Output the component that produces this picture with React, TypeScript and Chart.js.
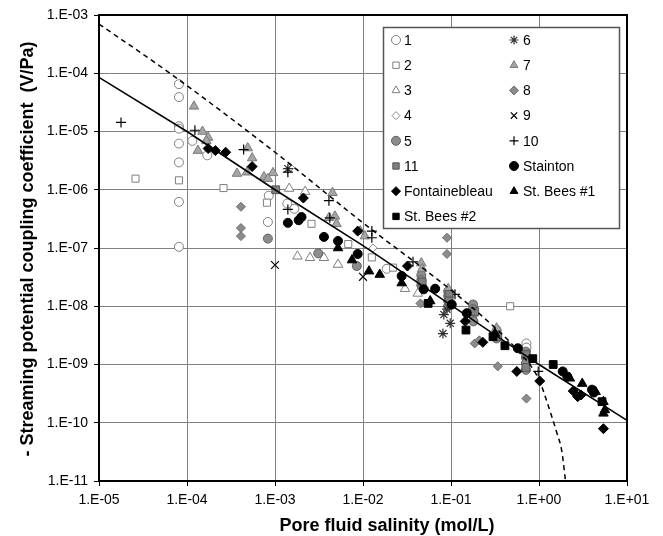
import React, { useEffect, useRef } from 'react';
import { Chart, registerables } from 'chart.js';
import { drawPoint } from 'chart.js/helpers';

Chart.register(...registerables);

// ---------- axis ticks & titles ----------
const X_TICKS = [1e-5, 1e-4, 1e-3, 1e-2, 1e-1, 1, 10];
const X_TICK_LABELS = ['1.E-05', '1.E-04', '1.E-03', '1.E-02', '1.E-01', '1.E+00', '1.E+01'];
const Y_TICKS = [1e-11, 1e-10, 1e-9, 1e-8, 1e-7, 1e-6, 1e-5, 1e-4, 1e-3];
const Y_TICK_LABELS = ['1.E-11', '1.E-10', '1.E-09', '1.E-08', '1.E-07', '1.E-06', '1.E-05', '1.E-04', '1.E-03'];
const X_TITLE = 'Pore fluid salinity (mol/L)';
const Y_TITLE = '- Streaming potential coupling coefficient  (V/Pa)';

// ---------- series labels ----------
const LABELS = ['1', '2', '3', '4', '5', '6', '7', '8', '9', '10', '11', 'Stainton', 'Fontainebleau', 'St. Bees #1', 'St. Bees #2'];

// ---------- data (salinity mol/L, coupling coefficient V/Pa) ----------
const S1_X = [8.1e-5, 8.1e-5, 8.1e-5, 8.1e-5, 8.1e-5, 8.1e-5, 8.1e-5, 8.1e-5, 1.15e-4, 1.7e-4, 8.3e-4, 8.5e-4, 1.38e-3, 1.66e-3, 1.86e-2, 9.8e-2, 0.33, 0.72, 0.72];
const S1_Y = [6.5e-5, 3.9e-5, 1.23e-5, 1.12e-5, 6.2e-6, 2.95e-6, 6.2e-7, 1.05e-7, 6.9e-6, 3.9e-6, 2.8e-7, 7.9e-7, 5.8e-7, 4.7e-7, 4.4e-8, 1.66e-8, 3.9e-9, 2.3e-9, 1.95e-9];

const S2_X = [2.6e-5, 8.1e-5, 2.6e-4, 8.1e-4, 2.6e-3, 6.8e-3, 1.26e-2, 2.2e-2, 0.47];
const S2_Y = [1.55e-6, 1.45e-6, 1.07e-6, 6.0e-7, 2.6e-7, 1.17e-7, 6.9e-8, 4.6e-8, 1.0e-8];

const S3_X = [1.45e-3, 2.2e-3, 1.8e-3, 2.5e-3, 3.6e-3, 5.2e-3, 3.0e-2, 4.2e-2];
const S3_Y = [1.05e-6, 9.3e-7, 7.2e-8, 6.8e-8, 6.8e-8, 5.2e-8, 2.0e-8, 1.66e-8];

const S4_X = [1.5e-3, 1.3e-2];
const S4_Y = [2.4e-6, 1.0e-7];

const S5_X = [8.3e-4, 3.1e-3, 8.5e-3, 4.6e-2, 4.6e-2, 4.6e-2, 9.3e-2, 9.3e-2, 9.3e-2, 9.3e-2, 0.178, 0.178, 0.178, 0.18, 0.33, 0.33, 0.71, 0.71, 0.71, 0.71];
const S5_Y = [1.45e-7, 8.1e-8, 4.9e-8, 3.4e-8, 2.8e-8, 2.3e-8, 1.8e-8, 1.5e-8, 1.23e-8, 1.0e-8, 1.07e-8, 8.9e-9, 7.2e-9, 5.5e-9, 3.4e-9, 2.8e-9, 1.66e-9, 1.32e-9, 1.05e-9, 8.1e-10];

const S6_X = [1.4e-3, 8.3e-2, 9.0e-2, 9.8e-2, 8.1e-2];
const S6_Y = [2.3e-6, 7.2e-9, 8.9e-9, 5.1e-9, 3.4e-9];

const S7_X = [1.2e-4, 1.5e-4, 1.74e-4, 1.66e-4, 1.33e-4, 3.7e-4, 4.9e-4, 5.5e-4, 4.8e-4, 9.5e-4, 7.5e-4, 8.3e-4, 4.5e-3, 4.1e-3, 4.8e-3, 5.0e-3, 9.3e-3, 1.05e-2, 4.6e-2, 4.7e-2, 9.3e-2, 0.33];
const S7_Y = [2.7e-5, 1.0e-5, 7.9e-6, 6.9e-6, 4.7e-6, 1.9e-6, 5.2e-6, 3.5e-6, 2.0e-6, 1.95e-6, 1.66e-6, 1.55e-6, 8.9e-7, 3.3e-7, 3.5e-7, 2.6e-7, 1.95e-7, 1.6e-7, 5.5e-8, 4.4e-8, 2.0e-8, 4.2e-9];

const S8_X = [4.1e-4, 4.1e-4, 4.1e-4, 9.0e-2, 9.0e-2, 4.5e-2, 0.186, 0.21, 0.34, 0.72];
const S8_Y = [5.1e-7, 2.2e-7, 1.6e-7, 1.5e-7, 7.9e-8, 1.12e-8, 2.3e-9, 2.6e-9, 9.3e-10, 2.6e-10];

const S9_X = [1.0e-3, 1.0e-2];
const S9_Y = [5.1e-8, 3.2e-8];

const S10_X = [1.78e-5, 1.23e-4, 4.4e-4, 1.4e-3, 1.4e-3, 4.1e-3, 4.2e-3, 1.26e-2, 1.26e-2, 3.7e-2, 0.111, 0.98];
const S10_Y = [1.43e-5, 1.05e-5, 4.9e-6, 2.0e-6, 4.6e-7, 6.5e-7, 3.3e-7, 1.95e-7, 1.5e-7, 5.8e-8, 1.6e-8, 7.6e-10];

const S11_X = [1.02e-3, 9.5e-2, 9.5e-2, 4.7e-2, 0.186, 0.34, 0.71, 0.71];
const S11_Y = [1.0e-6, 1.6e-8, 1.23e-8, 2.6e-8, 8.1e-9, 3.0e-9, 1.48e-9, 8.9e-10];

const STAINTON_X = [1.4e-3, 1.86e-3, 2.0e-3, 3.6e-3, 5.2e-3, 8.7e-3, 2.75e-2, 4.9e-2, 6.6e-2, 0.102, 0.151, 0.575, 1.86, 2.1, 4.0, 4.2];
const STAINTON_Y = [2.7e-7, 3.0e-7, 3.4e-7, 1.55e-7, 1.32e-7, 7.9e-8, 3.3e-8, 1.95e-8, 2.0e-8, 1.07e-8, 7.6e-9, 1.9e-9, 7.6e-10, 6.2e-10, 3.7e-10, 3.3e-10];

const FONT_X = [1.74e-4, 2.1e-4, 2.75e-4, 5.5e-4, 2.1e-3, 8.7e-3, 3.2e-2, 0.145, 0.23, 0.56, 1.02, 2.45, 2.75, 3.0, 5.4];
const FONT_Y = [5.1e-6, 4.7e-6, 4.4e-6, 2.5e-6, 7.2e-7, 1.95e-7, 4.9e-8, 5.5e-9, 2.4e-9, 7.6e-10, 5.2e-10, 3.5e-10, 2.8e-10, 3.0e-10, 7.9e-11];

const BEES1_X = [5.2e-3, 7.5e-3, 1.17e-2, 1.55e-2, 2.75e-2, 5.8e-2, 0.316, 2.24, 3.1, 4.4, 5.4, 5.6, 5.4];
const BEES1_Y = [1.0e-7, 6.2e-8, 4.0e-8, 3.5e-8, 2.5e-8, 1.23e-8, 3.4e-9, 5.8e-10, 4.7e-10, 3.4e-10, 2.3e-10, 1.66e-10, 1.45e-10];

const BEES2_X = [5.5e-2, 0.148, 0.30, 0.41, 0.85, 1.45, 5.2];
const BEES2_Y = [1.12e-8, 3.9e-9, 3.0e-9, 2.1e-9, 1.26e-9, 1.0e-9, 2.3e-10];

// model curves
const FIT_X = [1e-5, 1e-4, 1e-3, 1e-2, 1e-1, 1, 10];
const FIT_Y = [8.5e-5, 1.0e-5, 1.0e-6, 1.1e-7, 1.05e-8, 1.0e-9, 1.1e-10];
const DASH_X = [1e-5, 6.4e-5, 1e-3, 1e-2, 1e-1, 0.23, 0.56, 1.0, 1.23, 1.58, 1.82, 2.0];
const DASH_Y = [7.0e-4, 1.0e-4, 4.4e-6, 2.7e-7, 1.9e-8, 6.6e-9, 1.8e-9, 5.5e-10, 2.3e-10, 7e-11, 3.2e-11, 1e-11];

const SERIES_X = [S1_X, S2_X, S3_X, S4_X, S5_X, S6_X, S7_X, S8_X, S9_X, S10_X, S11_X, STAINTON_X, FONT_X, BEES1_X, BEES2_X];
const SERIES_Y = [S1_Y, S2_Y, S3_Y, S4_Y, S5_Y, S6_Y, S7_Y, S8_Y, S9_Y, S10_Y, S11_Y, STAINTON_Y, FONT_Y, BEES1_Y, BEES2_Y];

// ---------- styles ----------
const STYLES = [
  { pointStyle: 'circle', radius: 4.5, bg: '#ffffff', border: '#7f7f7f', bw: 1 },
  { pointStyle: 'rect', radius: 5, bg: '#ffffff', border: '#7f7f7f', bw: 1 },
  { pointStyle: 'triangle', radius: 5.5, bg: '#ffffff', border: '#7f7f7f', bw: 1 },
  { pointStyle: 'rectRot', radius: 4, bg: '#ffffff', border: '#8a8a8a', bw: 1 },
  { pointStyle: 'circle', radius: 4.5, bg: '#8c8c8c', border: '#5f5f5f', bw: 1 },
  { pointStyle: 'star', radius: 5, bg: '#333333', border: '#333333', bw: 1.2 },
  { pointStyle: 'triangle', radius: 5.5, bg: '#a6a6a6', border: '#7a7a7a', bw: 1 },
  { pointStyle: 'rectRot', radius: 4.5, bg: '#8c8c8c', border: '#6a6a6a', bw: 1 },
  { pointStyle: 'crossRot', radius: 5.5, bg: '#000000', border: '#000000', bw: 1.2 },
  { pointStyle: 'cross', radius: 5, bg: '#000000', border: '#000000', bw: 1.2 },
  { pointStyle: 'rect', radius: 5.5, bg: '#7f7f7f', border: '#555555', bw: 1 },
  { pointStyle: 'circle', radius: 4.5, bg: '#000000', border: '#000000', bw: 1 },
  { pointStyle: 'rectRot', radius: 5, bg: '#000000', border: '#000000', bw: 1 },
  { pointStyle: 'triangle', radius: 5.5, bg: '#000000', border: '#000000', bw: 1 },
  { pointStyle: 'rect', radius: 5.5, bg: '#000000', border: '#000000', bw: 1 },
];

const LEGEND_ORDER = [0, 5, 1, 6, 2, 7, 3, 8, 4, 9, 10, 11, 12, 13, 14];
const FONT = '"Liberation Sans", Arial, sans-serif';

const frameAndTitles = {
  id: 'frameAndTitles',
  beforeDatasetsDraw(chart: any) {
    const { ctx, chartArea: a } = chart;
    ctx.save();
    ctx.strokeStyle = '#000';
    ctx.lineWidth = 2;
    ctx.strokeRect(a.left, a.top, a.right - a.left, a.bottom - a.top);
    ctx.restore();
  },
  afterDraw(chart: any) {
    const { ctx } = chart;
    ctx.save();
    // axis titles
    ctx.fillStyle = '#000';
    ctx.font = 'bold 18px ' + FONT;
    ctx.textAlign = 'center';
    ctx.textBaseline = 'alphabetic';
    ctx.fillText(X_TITLE, 387, 531);
    ctx.save();
    ctx.translate(33, 249);
    ctx.rotate(-Math.PI / 2);
    ctx.fillText(Y_TITLE, 0, 0);
    ctx.restore();

    // legend box
    const bx = 383, by = 27, bw = 236, bh = 201;
    ctx.fillStyle = '#fff';
    ctx.fillRect(bx, by, bw, bh);
    ctx.strokeStyle = '#555';
    ctx.lineWidth = 1.5;
    ctx.strokeRect(bx + 0.5, by + 0.5, bw, bh);
    ctx.font = '14px ' + FONT;
    ctx.textAlign = 'left';
    ctx.textBaseline = 'middle';
    LEGEND_ORDER.forEach((di, i) => {
      const col = i % 2;
      const row = Math.floor(i / 2);
      const y = 40 + row * 25.2;
      const mx = col === 0 ? 396 : 514;
      const tx = col === 0 ? 404 : 523;
      const s = STYLES[di];
      ctx.fillStyle = s.bg;
      ctx.strokeStyle = s.border;
      ctx.lineWidth = s.bw;
      drawPoint(ctx, { pointStyle: s.pointStyle, radius: Math.min(s.radius, 4.5), rotation: 0, borderWidth: s.bw } as any, mx, y);
      ctx.fillStyle = '#000';
      ctx.fillText(LABELS[di], tx, y + 1);
    });
    ctx.restore();
  },
};

export default function App() {
  const ref = useRef<HTMLCanvasElement | null>(null);
  useEffect(() => {
    document.body.style.margin = '0';
    const canvas = ref.current;
    if (!canvas) return;

    const datasets: any[] = SERIES_X.map((xs, si) => {
      const s = STYLES[si];
      return {
        label: LABELS[si],
        data: xs.map((x, i) => ({ x, y: SERIES_Y[si][i] })),
        pointStyle: s.pointStyle,
        pointRadius: s.radius,
        pointBackgroundColor: s.bg,
        pointBorderColor: s.border,
        pointBorderWidth: s.bw,
        showLine: false,
        order: 100 - si,
      };
    });
    datasets.push({
      label: 'fit',
      data: FIT_X.map((x, i) => ({ x, y: FIT_Y[i] })),
      showLine: true,
      borderColor: '#000',
      borderWidth: 1.5,
      pointRadius: 0,
      order: 1,
    });
    datasets.push({
      label: 'model',
      data: DASH_X.map((x, i) => ({ x, y: DASH_Y[i] })),
      showLine: true,
      borderColor: '#000',
      borderWidth: 1.5,
      borderDash: [5, 4],
      cubicInterpolationMode: 'monotone',
      pointRadius: 0,
      order: 0,
    });

    const chart = new Chart(canvas, {
      type: 'scatter',
      data: { datasets },
      options: {
        responsive: false,
        animation: false,
        layout: { padding: { left: 0, right: 36, top: 15, bottom: 0 } },
        plugins: { legend: { display: false }, tooltip: { enabled: false } },
        scales: {
          x: {
            type: 'logarithmic',
            min: 1e-5,
            max: 10,
            afterBuildTicks: (scale: any) => { scale.ticks = X_TICKS.map((v) => ({ value: v })); },
            afterFit: (scale: any) => { scale.height = 55; },
            ticks: {
              callback: (_v: any, i: number) => X_TICK_LABELS[i],
              font: { family: FONT, size: 14 },
              color: '#000',
              padding: 6,
              maxRotation: 0,
              autoSkip: false,
            },
            grid: { color: '#808080', lineWidth: 1, tickLength: 5, tickColor: '#000' },
            border: { display: true, color: '#000', width: 2 },
          },
          y: {
            type: 'logarithmic',
            min: 1e-11,
            max: 1e-3,
            afterBuildTicks: (scale: any) => { scale.ticks = Y_TICKS.map((v) => ({ value: v })); },
            afterFit: (scale: any) => { scale.width = 99; },
            ticks: {
              callback: (_v: any, i: number) => Y_TICK_LABELS[i],
              font: { family: FONT, size: 14 },
              color: '#000',
              padding: 6,
              autoSkip: false,
            },
            grid: { color: '#808080', lineWidth: 1, tickLength: 5, tickColor: '#000' },
            border: { display: true, color: '#000', width: 2 },
          },
        },
      },
      plugins: [frameAndTitles],
    } as any);
    return () => chart.destroy();
  }, []);
  return (
    <div style={{ position: 'absolute', left: 0, top: 0, width: 663, height: 536 }}>
      <canvas ref={ref} width={663} height={536} style={{ display: 'block' }} />
    </div>
  );
}
